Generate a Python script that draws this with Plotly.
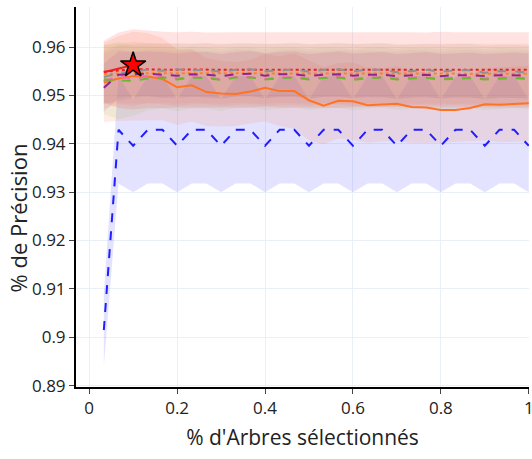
import plotly.graph_objects as go

# x: fraction of trees selected (k/30)
x_vals = [round(k / 30, 4) for k in range(1, 31)]

blue_mean = [0.9015, 0.9429, 0.9396, 0.9429, 0.9429, 0.9396, 0.9429, 0.9429, 0.9396, 0.9429,
             0.9429, 0.9396, 0.9429, 0.9429, 0.9396, 0.9429, 0.9429, 0.9396, 0.9429, 0.9429,
             0.9396, 0.9429, 0.9429, 0.9396, 0.9429, 0.9429, 0.9396, 0.9429, 0.9429, 0.9396]
blue_std = [0.0075, 0.0111, 0.0096, 0.0111, 0.0111, 0.0096, 0.0111, 0.0111, 0.0096, 0.0111,
            0.0111, 0.0096, 0.0111, 0.0111, 0.0096, 0.0111, 0.0111, 0.0096, 0.0111, 0.0111,
            0.0096, 0.0111, 0.0111, 0.0096, 0.0111, 0.0111, 0.0096, 0.0111, 0.0111, 0.0096]

orange_mean = [0.9527, 0.9535, 0.9540, 0.9539, 0.9534, 0.9517, 0.9521, 0.9507, 0.9504, 0.9503,
               0.9508, 0.9516, 0.9509, 0.9509, 0.9490, 0.9479, 0.9489, 0.9488, 0.9480, 0.9481,
               0.9483, 0.9476, 0.9475, 0.9470, 0.9470, 0.9474, 0.9482, 0.9481, 0.9482, 0.9484]
orange_std = [0.0082, 0.0088, 0.0092, 0.0090, 0.0085, 0.0078, 0.0075, 0.0070, 0.0068, 0.0066,
              0.0066, 0.0070, 0.0072, 0.0078, 0.0083, 0.0080, 0.0078, 0.0080, 0.0078, 0.0076,
              0.0077, 0.0074, 0.0073, 0.0068, 0.0066, 0.0068, 0.0075, 0.0077, 0.0078, 0.0078]

red_dot_mean = [0.9549, 0.9552, 0.9554, 0.9554, 0.9553, 0.9553, 0.9554, 0.9553, 0.9553, 0.9553,
                0.9553, 0.9554, 0.9553, 0.9553, 0.9553, 0.9553, 0.9553, 0.9554, 0.9553, 0.9553,
                0.9553, 0.9553, 0.9553, 0.9554, 0.9553, 0.9553, 0.9553, 0.9553, 0.9553, 0.9553]
red_dot_std = [0.0064, 0.0078, 0.0083, 0.0080, 0.0079, 0.0078, 0.0078, 0.0077, 0.0078, 0.0078,
               0.0078, 0.0077, 0.0078, 0.0078, 0.0078, 0.0078, 0.0079, 0.0078, 0.0078, 0.0078,
               0.0078, 0.0078, 0.0077, 0.0078, 0.0078, 0.0078, 0.0078, 0.0078, 0.0078, 0.0078]

orange_dot_mean = [0.9544, 0.9546, 0.9547, 0.9546, 0.9546, 0.9545, 0.9546, 0.9546, 0.9545, 0.9546,
                   0.9546, 0.9545, 0.9546, 0.9546, 0.9545, 0.9545, 0.9546, 0.9545, 0.9545, 0.9546,
                   0.9545, 0.9545, 0.9545, 0.9545, 0.9545, 0.9545, 0.9545, 0.9545, 0.9545, 0.9545]
orange_dot_std = [0.0060, 0.0062, 0.0064, 0.0062, 0.0061, 0.0062, 0.0061, 0.0062, 0.0062, 0.0061,
                  0.0062, 0.0062, 0.0061, 0.0062, 0.0062, 0.0061, 0.0062, 0.0062, 0.0061, 0.0062,
                  0.0062, 0.0061, 0.0062, 0.0062, 0.0061, 0.0062, 0.0062, 0.0061, 0.0062, 0.0062]

gray_mean = [0.9538, 0.9546, 0.9550, 0.9553, 0.9551, 0.9554, 0.9552, 0.9553, 0.9549, 0.9553,
             0.9554, 0.9550, 0.9552, 0.9554, 0.9549, 0.9553, 0.9554, 0.9550, 0.9553, 0.9553,
             0.9548, 0.9551, 0.9553, 0.9549, 0.9552, 0.9552, 0.9547, 0.9550, 0.9550, 0.9547]
gray_std = [0.0055, 0.0058, 0.0056, 0.0055, 0.0056, 0.0054, 0.0055, 0.0055, 0.0056, 0.0055,
            0.0054, 0.0056, 0.0055, 0.0055, 0.0056, 0.0055, 0.0054, 0.0056, 0.0055, 0.0055,
            0.0056, 0.0055, 0.0054, 0.0056, 0.0055, 0.0055, 0.0056, 0.0055, 0.0055, 0.0056]

purple_mean = [0.9516, 0.9543, 0.9544, 0.9545, 0.9543, 0.9541, 0.9544, 0.9543, 0.9540, 0.9544,
               0.9545, 0.9541, 0.9544, 0.9544, 0.9540, 0.9543, 0.9544, 0.9541, 0.9543, 0.9543,
               0.9540, 0.9542, 0.9543, 0.9540, 0.9542, 0.9542, 0.9540, 0.9542, 0.9542, 0.9541]
purple_std = [0.0050, 0.0048, 0.0046, 0.0046, 0.0047, 0.0046, 0.0046, 0.0047, 0.0046, 0.0046,
              0.0047, 0.0046, 0.0046, 0.0047, 0.0046, 0.0046, 0.0047, 0.0046, 0.0046, 0.0047,
              0.0046, 0.0046, 0.0047, 0.0046, 0.0046, 0.0047, 0.0046, 0.0046, 0.0047, 0.0046]

pink_mean = [0.9530, 0.9539, 0.9534, 0.9540, 0.9538, 0.9535, 0.9538, 0.9537, 0.9534, 0.9538,
             0.9538, 0.9534, 0.9537, 0.9538, 0.9535, 0.9537, 0.9538, 0.9535, 0.9537, 0.9537,
             0.9535, 0.9537, 0.9537, 0.9535, 0.9537, 0.9537, 0.9535, 0.9537, 0.9537, 0.9535]
pink_std = [0.0058, 0.0057, 0.0056, 0.0055, 0.0056, 0.0057, 0.0056, 0.0055, 0.0056, 0.0057,
            0.0056, 0.0055, 0.0056, 0.0057, 0.0056, 0.0055, 0.0056, 0.0057, 0.0056, 0.0055,
            0.0056, 0.0057, 0.0056, 0.0055, 0.0056, 0.0057, 0.0056, 0.0055, 0.0056, 0.0057]

green_mean = [0.9533, 0.9531, 0.9530, 0.9535, 0.9537, 0.9533, 0.9537, 0.9536, 0.9532, 0.9537,
              0.9537, 0.9533, 0.9536, 0.9537, 0.9533, 0.9536, 0.9537, 0.9532, 0.9536, 0.9537,
              0.9533, 0.9535, 0.9536, 0.9533, 0.9535, 0.9536, 0.9533, 0.9535, 0.9536, 0.9534]
green_std = [0.0072, 0.0080, 0.0072, 0.0066, 0.0064, 0.0065, 0.0064, 0.0063, 0.0064, 0.0063,
             0.0062, 0.0063, 0.0063, 0.0062, 0.0063, 0.0063, 0.0062, 0.0063, 0.0063, 0.0062,
             0.0063, 0.0063, 0.0062, 0.0063, 0.0063, 0.0062, 0.0063, 0.0063, 0.0062, 0.0063]

red_solid_x = [0.0333, 0.0667, 0.1]
red_solid_y = [0.9548, 0.9556, 0.9563]

best_x = [0.1]
best_y = [0.9563]

x_ticks = [0, 0.2, 0.4, 0.6, 0.8, 1]
y_ticks = [0.89, 0.90, 0.91, 0.92, 0.93, 0.94, 0.95, 0.96]

series = [
    (blue_mean, blue_std, "rgb(30,30,255)", "rgba(0,0,255,0.11)", "dash"),
    (orange_mean, orange_std, "rgb(255,115,35)", "rgba(255,110,40,0.12)", "solid"),
    (red_dot_mean, red_dot_std, "rgb(235,30,30)", "rgba(255,40,40,0.13)", "dot"),
    (orange_dot_mean, orange_dot_std, "rgb(250,130,40)", "rgba(250,120,40,0.11)", "dot"),
    (gray_mean, gray_std, "rgb(145,145,145)", "rgba(140,140,140,0.10)", "dash"),
    (purple_mean, purple_std, "rgb(145,35,145)", "rgba(145,35,145,0.10)", "dash"),
    (pink_mean, pink_std, "rgb(255,100,180)", "rgba(255,100,180,0.11)", "dash"),
    (green_mean, green_std, "rgb(105,185,45)", "rgba(105,185,45,0.09)", "dash"),
]

fig = go.Figure()

# bands first
for mean, std, lc, fc, dash in series:
    upper = [m + s for m, s in zip(mean, std)]
    lower = [m - s for m, s in zip(mean, std)]
    fig.add_trace(go.Scatter(
        x=x_vals + x_vals[::-1], y=upper + lower[::-1],
        fill="toself", fillcolor=fc, line=dict(width=0),
        mode="lines", hoverinfo="skip", showlegend=False))

# lines
for mean, std, lc, fc, dash in series:
    fig.add_trace(go.Scatter(
        x=x_vals, y=mean, mode="lines",
        line=dict(color=lc, width=2, dash=dash), showlegend=False))

fig.add_trace(go.Scatter(x=red_solid_x, y=red_solid_y, mode="lines",
                         line=dict(color="rgb(240,30,30)", width=2), showlegend=False))

fig.add_trace(go.Scatter(x=best_x, y=best_y, mode="markers",
                         marker=dict(symbol="star", size=19, color="red",
                                     line=dict(color="black", width=1.5)),
                         showlegend=False))

axis_common = dict(
    showline=True, linecolor="black", linewidth=2, mirror=False,
    ticks="outside", tickcolor="#444", ticklen=5, tickwidth=1,
    showgrid=True, gridcolor="#EBF0F8", zeroline=False,
    tickfont=dict(size=17, color="#222"),
    ticklabeloverflow="allow", automargin=False,
)

fig.update_layout(
    width=532, height=459,
    margin=dict(l=76, r=3, t=7, b=72),
    paper_bgcolor="white", plot_bgcolor="white",
    font=dict(family="Open Sans", color="#222"),
    showlegend=False,
    xaxis=dict(range=[-0.03, 1.0005], tickvals=x_ticks,
               title=dict(text="% d'Arbres sélectionnés", font=dict(size=21), standoff=12),
               **axis_common),
    yaxis=dict(range=[0.8897, 0.9683], tickvals=y_ticks, **axis_common),
    annotations=[dict(
        text="% de Précision", textangle=-90, showarrow=False,
        xref="paper", yref="paper", x=-0.129, y=0.445,
        xanchor="center", yanchor="middle",
        font=dict(size=22, color="#222"))],
)

fig.write_html("out.html")
